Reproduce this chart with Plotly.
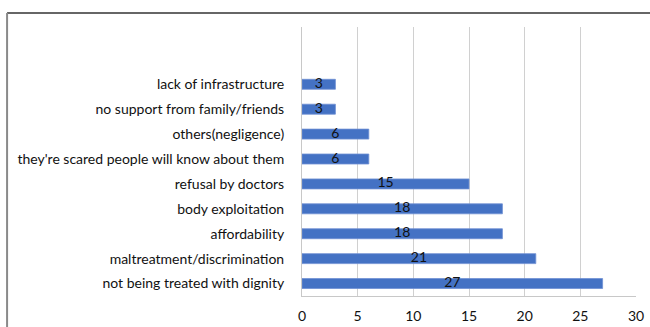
import plotly.graph_objects as go

categories = [
    "not being treated with dignity",
    "maltreatment/discrimination",
    "affordability",
    "body exploitation",
    "refusal by doctors",
    "they're scared people will know about them",
    "others(negligence)",
    "no support from family/friends",
    "lack of infrastructure",
]
values = [27, 21, 18, 18, 15, 6, 6, 3, 3]
x_ticks = [0, 5, 10, 15, 20, 25, 30]

FONT = "Lato, Liberation Sans, sans-serif"

fig = go.Figure()
fig.add_trace(go.Bar(
    x=values, y=categories, orientation="h",
    marker=dict(color="#4472C4", line=dict(color="#6E8FD3", width=0.8)),
    width=0.4, hoverinfo="skip",
))
fig.add_trace(go.Scatter(
    x=[v / 2 for v in values], y=categories, mode="text",
    text=[str(v) for v in values], textposition="middle center",
    textfont=dict(family=FONT, size=14, color="#111111"),
    hoverinfo="skip", showlegend=False,
))

fig.update_layout(
    width=650, height=327,
    margin=dict(l=302, r=14, t=27, b=31, autoexpand=False),
    paper_bgcolor="white", plot_bgcolor="white",
    showlegend=False,
    font=dict(family=FONT, size=14, color="#111111"),
    xaxis=dict(
        range=[0, 30], tickvals=x_ticks, ticktext=[str(t) for t in x_ticks],
        showgrid=True, gridcolor="#D0D0D0", gridwidth=1,
        zeroline=False, showline=True, linecolor="#C8C8C8", linewidth=1,
        mirror=False, ticks="", ticklabelstandoff=7, automargin=False,
        tickfont=dict(family=FONT, size=14, color="#111111"),
        fixedrange=True,
    ),
    yaxis=dict(
        type="category", categoryorder="array", categoryarray=categories,
        range=[-0.5, 10.3], showgrid=False, zeroline=False,
        showline=True, linecolor="#C8C8C8", linewidth=1,
        ticks="", ticklabelstandoff=14, automargin=False,
        tickfont=dict(family=FONT, size=14, color="#111111"),
        fixedrange=True,
    ),
    shapes=[
        dict(type="line", xref="paper", yref="paper",
             x0=-0.883, x1=1.2, y0=1.052, y1=1.052,
             line=dict(color="#333333", width=1.5)),
        dict(type="line", xref="paper", yref="paper",
             x0=-0.883, x1=-0.883, y0=1.052, y1=-0.3,
             line=dict(color="#8A8A8A", width=2)),
    ],
)

fig.write_html("out.html")
